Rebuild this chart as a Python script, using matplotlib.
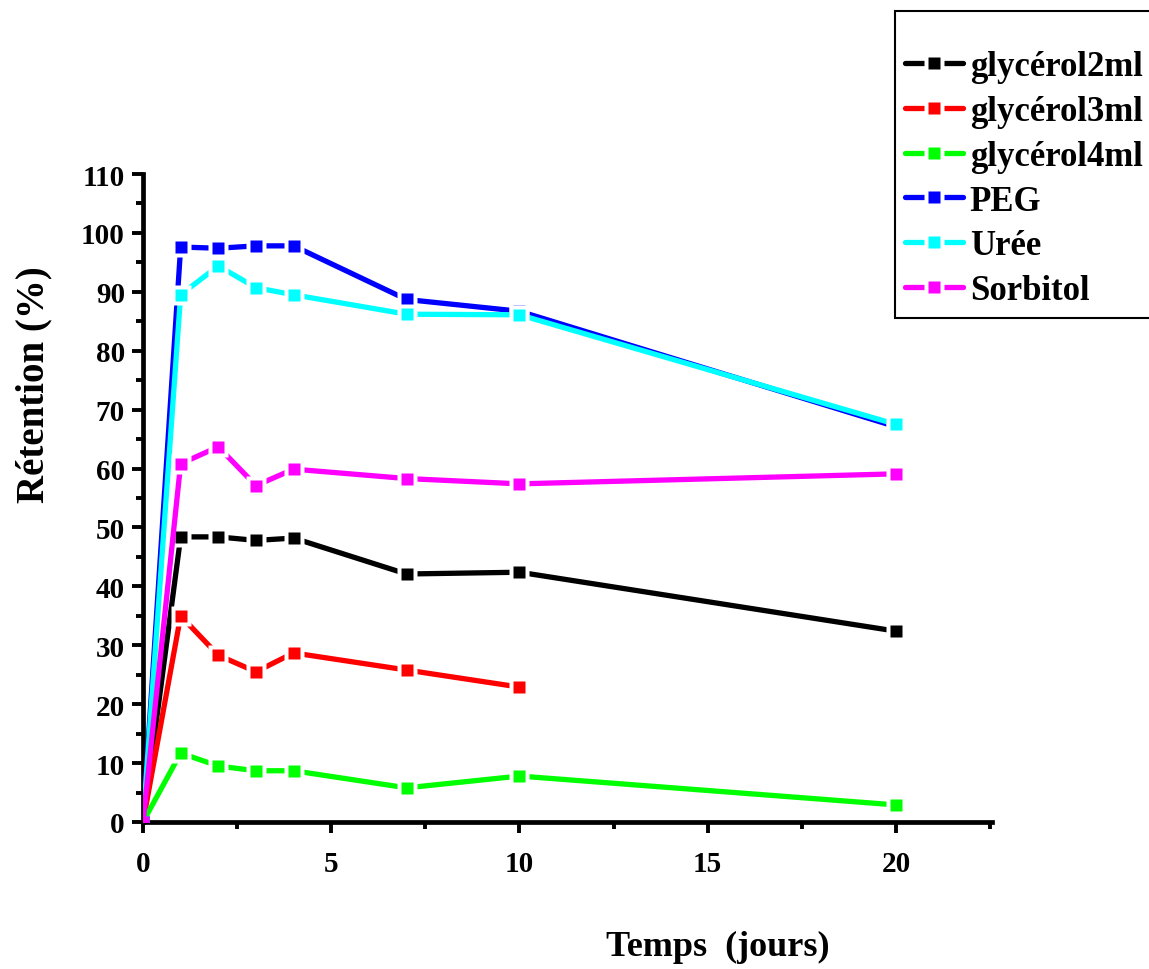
import matplotlib
matplotlib.use("Agg")
import matplotlib.pyplot as plt
from matplotlib.legend_handler import HandlerTuple
from matplotlib.ticker import MultipleLocator

plt.rcParams['font.family'] = ['Liberation Serif', 'DejaVu Serif']
plt.rcParams['font.weight'] = 'bold'

days = [0, 1, 2, 3, 4, 7, 10, 20]
days_g3 = [0, 1, 2, 3, 4, 7, 10]

glycerol2ml = [0, 48.4, 48.4, 47.8, 48.2, 42.1, 42.4, 32.4]
glycerol3ml = [0, 35.0, 28.3, 25.5, 28.7, 25.8, 22.9]
glycerol4ml = [0, 11.7, 9.5, 8.7, 8.7, 5.8, 7.8, 2.9]
peg = [0, 97.6, 97.4, 97.8, 97.8, 88.7, 86.7, 67.1]
uree = [0, 89.5, 94.4, 90.7, 89.5, 86.2, 86.1, 67.5]
sorbitol = [0, 60.8, 63.7, 57.1, 59.9, 58.3, 57.4, 59.1]

series = [
    ("glycérol2ml", days, glycerol2ml, "#000000"),
    ("glycérol3ml", days_g3, glycerol3ml, "#ff0000"),
    ("glycérol4ml", days, glycerol4ml, "#00ff00"),
    ("PEG", days, peg, "#0000ff"),
    ("Urée", days, uree, "#00ffff"),
    ("Sorbitol", days, sorbitol, "#ff00ff"),
]

fig = plt.figure(figsize=(11.49, 9.70), dpi=100)
ax = fig.add_axes([143/1149, 1-823/970, (992-143)/1149, (823-175)/970])

LW = 3.8
MS = 9.0
GAP = 14.5
handles = []
labels = []
z = 2
for name, x, y, col in series:
    ln, = ax.plot(x, y, color=col, lw=LW, solid_capstyle='round', zorder=z)
    gp, = ax.plot(x, y, ls='none', marker='s', ms=GAP, mfc='white', mec='none',
                  markevery=list(range(1, len(x))), zorder=z + 0.1)
    mk, = ax.plot(x, y, ls='none', marker='s', ms=MS, mfc=col, mec='none', zorder=z + 0.2)
    z += 1
    handles.append((ln, gp, mk))
    labels.append(name)

ax.set_xlim(0, 22.55)
ax.set_ylim(0, 110)
ax.xaxis.set_major_locator(MultipleLocator(5))
ax.xaxis.set_minor_locator(MultipleLocator(2.5))
ax.yaxis.set_major_locator(MultipleLocator(10))
ax.yaxis.set_minor_locator(MultipleLocator(5))

for s in ['top', 'right']:
    ax.spines[s].set_visible(False)
for s in ['left', 'bottom']:
    ax.spines[s].set_linewidth(3.4)
ax.tick_params(which='major', length=8, width=2.8, labelsize=21, pad=5)
ax.tick_params(which='minor', length=5, width=2.8)
ax.tick_params(axis='x', which='major', pad=12)
for lab in ax.get_xticklabels() + ax.get_yticklabels():
    lab.set_fontweight('bold')

ax.set_xlabel("Temps  (jours)", fontsize=26, fontweight='bold')
ax.xaxis.set_label_coords((718-143)/(992-143), -(931-823)/(823-175))
ax.set_ylabel("Rétention (%)", fontsize=28, fontweight='bold')
ax.yaxis.set_label_coords(-(143-52)/(992-143), (823-385)/(823-175))

leg = fig.legend(
    [(ln, gp, mk) for (ln, gp, mk) in handles], labels,
    handler_map={tuple: HandlerTuple(ndivide=1, pad=0)},
    loc='upper left', bbox_to_anchor=(895/1149, 1-12/970),
    bbox_transform=fig.transFigure,
    prop={'family': ['Liberation Serif'], 'weight': 'bold', 'size': 25},
    frameon=True, fancybox=False, framealpha=1, edgecolor='black',
    handlelength=1.65, handletextpad=0.2, labelspacing=0.34,
    borderpad=0.3, borderaxespad=0, title=' ',
    title_fontproperties={'size': 13},
)
leg.get_frame().set_linewidth(1.5)

fig.savefig("out.png", dpi=100)
